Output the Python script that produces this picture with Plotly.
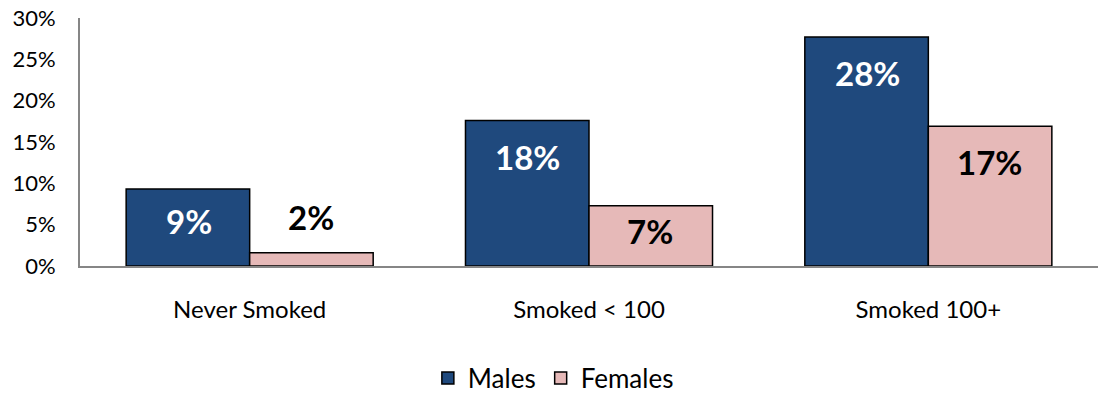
import plotly.graph_objects as go

# Share of respondents by smoking history and sex (%)
categories = ["Never Smoked", "Smoked < 100", "Smoked 100+"]
males = [9.3, 17.6, 27.7]
females = [1.6, 7.3, 16.9]
y_ticks = [0, 5, 10, 15, 20, 25, 30]

MALE_COLOR = "#1F497D"
FEMALE_COLOR = "#E6B9B8"
AXIS_COLOR = "#868686"
FONT = "Lato"

W, H = 1098, 393
M_L, M_R, M_T, M_B = 80, 0, 18, 127
Y_MAX = 30
px_per_unit = (H - M_T - M_B) / Y_MAX

fig = go.Figure()
fig.add_trace(go.Bar(name="Males", x=categories, y=males,
                     marker=dict(color=MALE_COLOR, line=dict(color="black", width=1.5))))
fig.add_trace(go.Bar(name="Females", x=categories, y=females,
                     marker=dict(color=FEMALE_COLOR, line=dict(color="black", width=1.5))))

# Value labels: inside near the top of tall bars, above short ones
annotations = []
for trace_idx, (vals, txt_color) in enumerate([(males, "white"), (females, "black")]):
    for i, v in enumerate(vals):
        bar_px = v * px_per_unit
        if bar_px > 40:
            shift = -min(36, bar_px * 0.42)
            color = txt_color
        else:
            shift = 36
            color = "black"
        annotations.append(dict(
            x=i + (-0.18 if trace_idx == 0 else 0.18), xref="x",
            y=v, yref="y", yshift=shift, yanchor="middle",
            text=f"<b>{v:.0f}%</b>", showarrow=False,
            font=dict(family=FONT, size=33, color=color),
        ))

fig.update_layout(
    width=W, height=H,
    margin=dict(l=M_L, r=M_R, t=M_T, b=M_B, autoexpand=False),
    paper_bgcolor="white", plot_bgcolor="white",
    barmode="group", bargap=0.272, bargroupgap=0,
    font=dict(family=FONT, size=22, color="black"),
    showlegend=True,
    legend=dict(orientation="h", x=0.465, xanchor="center",
                yref="container", y=15 / H, yanchor="middle",
                font=dict(size=26), itemwidth=30),
    annotations=annotations,
    xaxis=dict(showline=True, linecolor=AXIS_COLOR, linewidth=2, ticks="",
               showgrid=False, ticklabelstandoff=21, tickfont=dict(size=24),
               automargin=False),
    yaxis=dict(range=[0, Y_MAX], tickvals=y_ticks, ticktext=[f"{t}%" for t in y_ticks],
               showline=True, linecolor=AXIS_COLOR, linewidth=2, ticks="",
               showgrid=False, zeroline=False, ticklabelstandoff=18,
               tickfont=dict(size=22), automargin=False),
)

fig.write_html("out.html")
